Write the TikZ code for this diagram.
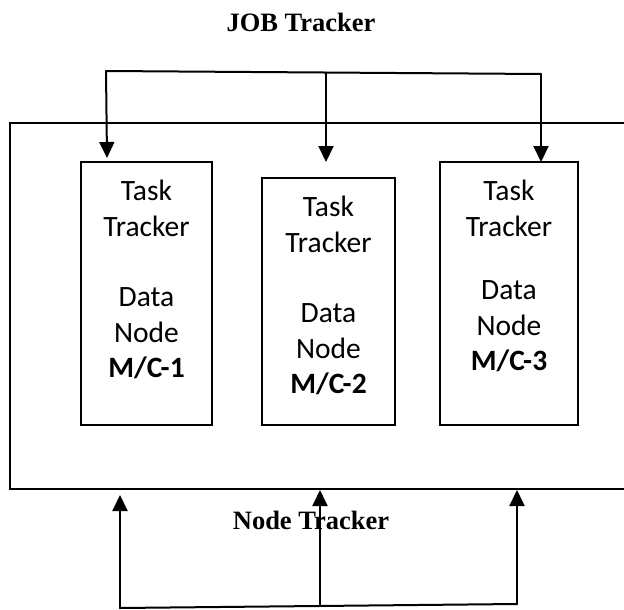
\documentclass[tikz,border=0pt]{standalone}
\usepackage{fontspec}
\setsansfont{Carlito}
\newfontfamily\headfont{Liberation Serif}
\usetikzlibrary{arrows.meta}

\begin{document}
\begin{tikzpicture}[x=1pt,y=-1pt,
  mc node/.style={rectangle,draw,line width=1.7pt,inner sep=0pt},
  text node/.style={anchor=north,align=center,inner sep=0pt,font=\sffamily\fontsize{29.5}{35.5}\selectfont},
  head node/.style={font=\headfont\bfseries\fontsize{26.5}{30}\selectfont},
  link/.style={line width=2pt,line cap=round},
  tip/.style={-{Triangle[length=16pt,width=15pt]}}]

\useasboundingbox (0,0) rectangle (624,610);

\node[head node] (jt) at (301,22) {JOB Tracker};
\node[head node] (nt) at (311,520) {Node Tracker};

\node[mc node,minimum width=630pt,minimum height=366pt] (cl) at (325,306) {};

\node[mc node,minimum width=131pt,minimum height=263pt] (m1) at (146.5,293.5) {};
\node[mc node,minimum width=133pt,minimum height=247pt] (m2) at (328.5,301.5) {};
\node[mc node,minimum width=138pt,minimum height=263pt] (m3) at (509,293.5) {};

\node[text node] (t1) at ([yshift=-19pt]m1.north) {Task\\Tracker\\[35pt]Data\\Node\\\textbf{M/C-1}};
\node[text node] (t2) at ([yshift=-19pt]m2.north) {Task\\Tracker\\[35pt]Data\\Node\\\textbf{M/C-2}};
\node[text node] (t3) at ([yshift=-19pt]m3.north) {Task\\Tracker\\[28pt]Data\\Node\\\textbf{M/C-3}};

\coordinate (j1) at (106,71);
\coordinate (j2) at (326,72.5);
\coordinate (j3) at (541,74);
\coordinate (a1) at (107,158);
\coordinate (a2) at (326,162);
\coordinate (a3) at (541,162);

\coordinate (b1) at (120,608);
\coordinate (b2) at (320,606);
\coordinate (b3) at (517,604);
\coordinate (u1) at (120,495);
\coordinate (u2) at (320,490);
\coordinate (u3) at (517,490);

\path [] (j1) [link] edge (j3)
(j1) [link,tip] edge (a1)
(j2) [link,tip] edge (a2)
(j3) [link,tip] edge (a3);

\path [] (b1) [link] edge (b3)
(b1) [link,tip] edge (u1)
(b2) [link,tip] edge (u2)
(b3) [link,tip] edge (u3);

\end{tikzpicture}
\end{document}
